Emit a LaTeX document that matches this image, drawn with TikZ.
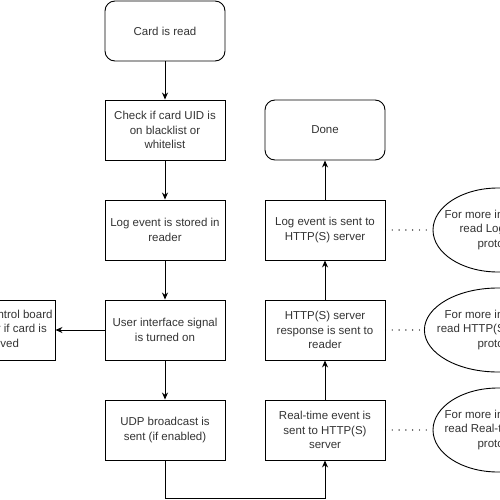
\documentclass[tikz,border=0pt]{standalone}
\usepackage{fontspec}
\setmainfont{Liberation Sans}
\usetikzlibrary{arrows.meta,shapes.geometric}
\begin{document}
\begin{tikzpicture}[x=1pt,y=-1pt,
        box/.style={draw,line width=0.9pt,minimum width=120pt,minimum height=60pt,
            inner sep=2pt,align=center,font=\fontsize{11.5}{14.5}\selectfont,text=black!80},
        endbox/.style={box,rounded corners=10pt},
        info/.style={draw,ellipse,line width=0.9pt,minimum width=130pt,minimum height=84pt,
            inner sep=-9pt,align=center,font=\fontsize{11.5}{14.5}\selectfont,text=black!80},
        flow/.style={line width=0.9pt,-{Stealth[length=7pt,width=6pt]}},
        dots/.style={line width=1.4pt,line cap=round,dash pattern=on 0pt off 6.8pt}]
    \clip (0,0) rectangle (500,500);

    % left column
    \node[endbox] (card) at (165,31) {Card is read};
    \node[box] (check) at (165,130) {Check if card UID is\\on blacklist or\\whitelist};
    \node[box] (logstored) at (165,230) {Log event is stored in\\reader};
    \node[box] (uisignal) at (165,330) {User interface signal\\is turned on};
    \node[box] (udp) at (165,430) {UDP broadcast is\\sent (if enabled)};
    \node[box] (control) at (-5,330) {Signal to control board\\opens door if card is\\approved};

    % right column
    \node[box] (realtime) at (325,430) {Real-time event is\\sent to HTTP(S)\\server};
    \node[box] (response) at (325,330) {HTTP(S) server\\response is sent to\\reader};
    \node[box] (logsent) at (325,230) {Log event is sent to\\HTTP(S) server};
    \node[endbox] (done) at (325,130) {Done};

    \node[info] (inforeal) at (498,430) {For more information\\read Real-time event\\protocol};
    \node[info] (inforesp) at (498,330) {For more information\\read HTTP(S) response\\protocol};
    \node[info] (infolog) at (498,230) {For more information\\read Log event\\protocol};

    \draw[flow] (card) -- (check);
    \draw[flow] (check) -- (logstored);
    \draw[flow] (logstored) -- (uisignal);
    \draw[flow] (uisignal) -- (udp);
    \draw[flow] (uisignal) -- (control);
    \coordinate (bend1) at (165,498);
    \coordinate (bend2) at (325,498);
    \draw[flow] (udp) -- (bend1) -- (bend2) -- (realtime);
    \draw[flow] (realtime) -- (response);
    \draw[flow] (response) -- (logsent);
    \draw[flow] (logsent) -- (done);

    \draw[dots] (logsent) -- (infolog);
    \draw[dots] (response) -- (inforesp);
    \draw[dots] (realtime) -- (inforeal);
\end{tikzpicture}
\end{document}
